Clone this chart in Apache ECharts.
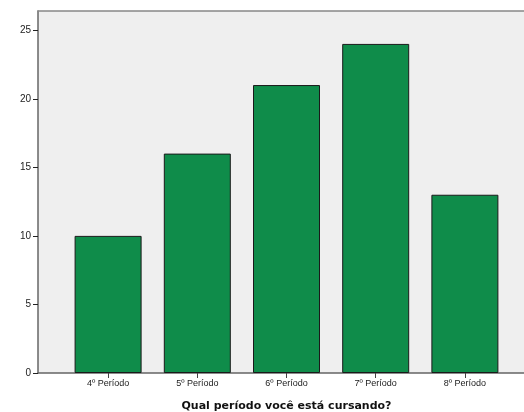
<!DOCTYPE html>
<html><head><meta charset="utf-8">
<script src="https://cdn.jsdelivr.net/npm/echarts@6/dist/echarts.min.js"></script>
<style>html,body{margin:0;padding:0;background:#fff}#c{width:524px;height:412px}</style>
</head><body><div id="c"></div>
<script>
var categories = ['4º Período','5º Período','6º Período','7º Período','8º Período'];
var values = [10, 16, 21, 24, 13];
var yTicks = [0, 5, 10, 15, 20, 25];
var title = 'Qual período você está cursando?';

var chart = echarts.init(document.getElementById('c'), null, {renderer:'canvas'});
var yMax = 26.4;
chart.setOption({
  animation:false,
  grid:[
    {left:38, right:0, top:11, bottom:39, show:true, backgroundColor:'#efefef', borderWidth:0, containLabel:false, outerBoundsMode:'none'},
    {left:63.5, right:14.5, top:11, bottom:39, containLabel:false, outerBoundsMode:'none'}
  ],
  xAxis:[
    {gridIndex:0, type:'value', min:0, max:1, position:'bottom', axisLine:{show:true, onZero:false, lineStyle:{color:'#666', width:1.5}}, axisTick:{show:false}, axisLabel:{show:false}, splitLine:{show:false}},
    {gridIndex:0, type:'value', min:0, max:1, position:'top', axisLine:{show:true, onZero:false, lineStyle:{color:'#888', width:1.5}}, axisTick:{show:false}, axisLabel:{show:false}, splitLine:{show:false}},
    {gridIndex:1, type:'category', data:categories, position:'bottom',
      axisLine:{show:false}, axisTick:{show:true, alignWithLabel:true, length:5, lineStyle:{color:'#444'}},
      axisLabel:{color:'#222', fontSize:9, fontFamily:'Liberation Sans, Arial', margin:6},
      name:title, nameLocation:'middle', nameGap:28,
      nameTextStyle:{fontFamily:'DejaVu Sans', fontWeight:'bold', fontSize:11, color:'#111'}
    }
  ],
  yAxis:[
    {gridIndex:0, type:'value', min:0, max:yMax, interval:5,
      axisLine:{show:true, onZero:false, lineStyle:{color:'#666', width:1.5}},
      axisTick:{show:true, length:5, customValues:yTicks, lineStyle:{color:'#222'}},
      axisLabel:{color:'#222', fontSize:10, fontFamily:'Liberation Sans, Arial', margin:7, customValues:yTicks},
      splitLine:{show:false}},
    {gridIndex:1, type:'value', min:0, max:yMax, show:false}
  ],
  series:[{
    type:'bar', xAxisIndex:2, yAxisIndex:1, data:values, barWidth:67,
    itemStyle:{color:'#0f8c4a', borderColor:'#1a1a1a', borderWidth:1}
  }]
});
</script></body></html>
